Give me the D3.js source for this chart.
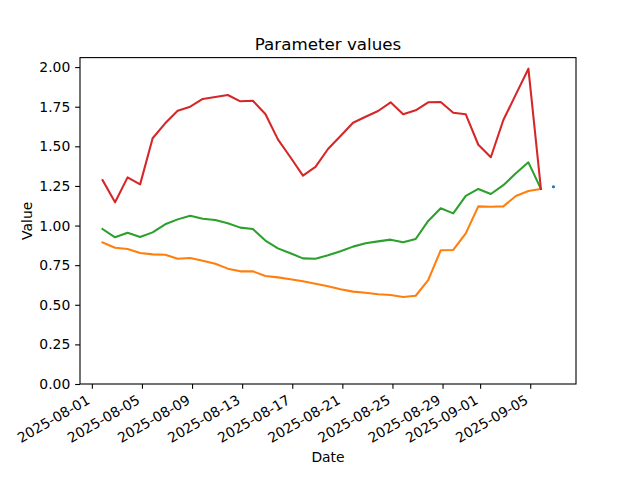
<!DOCTYPE html>
<html>
<head>
<meta charset="utf-8">
<script src="https://cdn.jsdelivr.net/npm/d3@7"></script>
<style>
  html, body { margin: 0; padding: 0; background: #fff; }
  svg { display: block; }
  text { font-family: "DejaVu Sans", sans-serif; fill: #000; }
</style>
</head>
<body>
<svg id="chart" width="640" height="480"></svg>
<script>
// ---- Data ----
const startDate = "2025-08-01T20:30";   // first sample, one per day
const redValues = [1.287, 1.147, 1.304, 1.260, 1.551, 1.645, 1.725, 1.750, 1.799, 1.811,
  1.824, 1.784, 1.788, 1.704, 1.544, 1.431, 1.315, 1.370, 1.483, 1.565,
  1.649, 1.687, 1.723, 1.778, 1.702, 1.727, 1.778, 1.780, 1.712, 1.702,
  1.510, 1.431, 1.666, 1.828, 1.990, 1.231];
const greenValues = [0.978, 0.926, 0.955, 0.928, 0.957, 1.008, 1.039, 1.062, 1.043, 1.035,
  1.014, 0.987, 0.978, 0.905, 0.856, 0.825, 0.793, 0.791, 0.812, 0.838,
  0.867, 0.888, 0.900, 0.911, 0.894, 0.915, 1.029, 1.109, 1.077, 1.187,
  1.231, 1.199, 1.255, 1.330, 1.399, 1.231];
const orangeValues = [0.894, 0.860, 0.852, 0.827, 0.818, 0.816, 0.791, 0.795, 0.778, 0.759,
  0.728, 0.711, 0.711, 0.682, 0.673, 0.661, 0.648, 0.633, 0.617, 0.598,
  0.583, 0.576, 0.566, 0.562, 0.549, 0.557, 0.656, 0.844, 0.846, 0.951,
  1.121, 1.119, 1.121, 1.187, 1.218, 1.231];
const blueDates = ["2025-09-06T20:30"];
const blueValues = [1.245];
const xTickLabels = ["2025-08-01", "2025-08-05", "2025-08-09", "2025-08-13", "2025-08-17",
  "2025-08-21", "2025-08-25", "2025-08-29", "2025-09-01", "2025-09-05"];
const yTickValues = [0, 0.25, 0.5, 0.75, 1.0, 1.25, 1.5, 1.75, 2.0];
const yMax = 2.06;

// ---- Setup ----
const parseT = d3.utcParse("%Y-%m-%dT%H:%M");
const parseD = d3.utcParse("%Y-%m-%d");
const t0 = parseT(startDate);
const dates = redValues.map((_, i) => d3.utcDay.offset(t0, i));
const blueDatesP = blueDates.map(parseT);

const svg = d3.select("#chart");
const L = 80, R = 576, T = 57.6, B = 384;
const fs = 13.9;

const allDates = dates.concat(blueDatesP);
const ext = d3.extent(allDates);
const span = ext[1] - ext[0];
const x = d3.scaleUtc()
  .domain([new Date(+ext[0] - 0.05 * span), new Date(+ext[1] + 0.05 * span)])
  .range([L, R]);
const y = d3.scaleLinear().domain([0, yMax]).range([B, T]);

const series = [
  { vals: orangeValues, color: "#ff7f0e" },
  { vals: greenValues, color: "#2ca02c" },
  { vals: redValues, color: "#d62728" }
];

// blue (single point)
svg.append("g").selectAll("circle")
  .data(blueValues)
  .join("circle")
  .attr("cx", (d, i) => x(blueDatesP[i]))
  .attr("cy", d => y(d))
  .attr("r", 1.6)
  .attr("fill", "#1f77b4");

const line = d3.line().x((d, i) => x(dates[i])).y(d => y(d));
svg.append("g").selectAll("path")
  .data(series)
  .join("path")
  .attr("d", s => line(s.vals))
  .attr("fill", "none")
  .attr("stroke", s => s.color)
  .attr("stroke-width", 2.08)
  .attr("stroke-linejoin", "round")
  .attr("stroke-linecap", "square");

// ---- Axes ----
const tickLen = 4.86, pad = 4.86;
const xAxis = d3.axisBottom(x)
  .tickValues(xTickLabels.map(parseD))
  .tickSize(tickLen).tickPadding(pad)
  .tickFormat(d3.utcFormat("%Y-%m-%d"));
const gx = svg.append("g").attr("transform", `translate(0,${B})`).call(xAxis);
gx.select(".domain").remove();
gx.selectAll("line").attr("stroke", "#000").attr("stroke-width", 1.1);
gx.selectAll("text")
  .attr("font-size", fs)
  .attr("font-family", "DejaVu Sans")
  .attr("text-anchor", "end")
  .attr("dy", null)
  .attr("y", null)
  .attr("transform", `translate(-1.5, ${tickLen + pad + 9.1}) rotate(-30)`);

const yAxis = d3.axisLeft(y)
  .tickValues(yTickValues)
  .tickSize(tickLen).tickPadding(pad)
  .tickFormat(d3.format(".2f"));
const gy = svg.append("g").attr("transform", `translate(${L},0)`).call(yAxis);
gy.select(".domain").remove();
gy.selectAll("line").attr("stroke", "#000").attr("stroke-width", 1.1);
gy.selectAll("text").attr("font-size", fs).attr("font-family", "DejaVu Sans");

// frame
svg.append("rect")
  .attr("x", L).attr("y", T).attr("width", R - L).attr("height", B - T)
  .attr("fill", "none").attr("stroke", "#000").attr("stroke-width", 1.1);

// labels
svg.append("text").attr("x", (L + R) / 2).attr("y", 49.5)
  .attr("text-anchor", "middle").attr("font-size", 16.7).text("Parameter values");
svg.append("text").attr("x", (L + R) / 2).attr("y", 462)
  .attr("text-anchor", "middle").attr("font-size", fs).text("Date");
svg.append("text")
  .attr("transform", `translate(31.5, ${(T + B) / 2}) rotate(-90)`)
  .attr("text-anchor", "middle").attr("font-size", fs).text("Value");
</script>
</body>
</html>
